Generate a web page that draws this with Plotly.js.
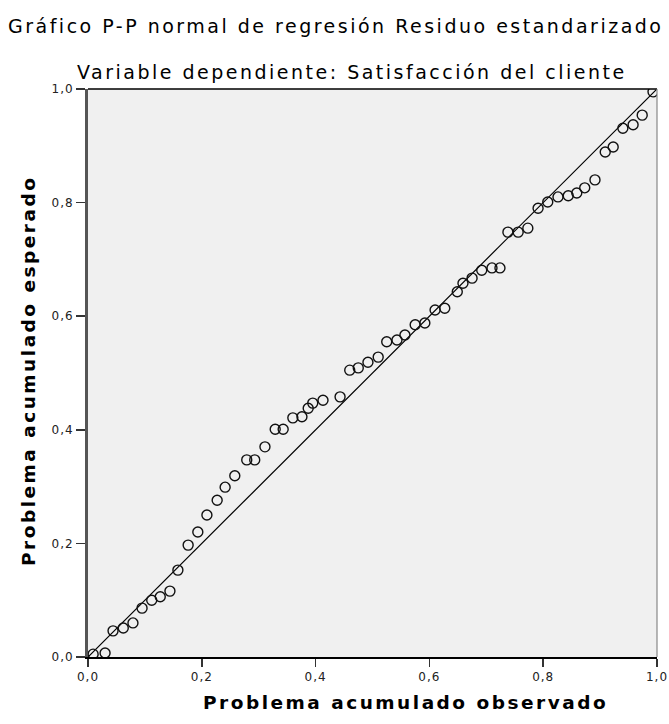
<!DOCTYPE html>
<html>
<head>
<meta charset="utf-8">
<script src="https://cdn.plot.ly/plotly-3.0.1.min.js"></script>
<style>
html,body{margin:0;padding:0;background:#fff;}
#chart{width:669px;height:724px;}
.annotation-text{letter-spacing:2.5px;}
.xtick text,.ytick text{letter-spacing:1px;}
</style>
</head>
<body>
<div id="chart"></div>
<script>
const observed = [0.009,0.030,0.044,0.062,0.079,0.095,0.112,0.127,0.144,0.158,0.176,0.193,0.209,0.227,0.241,0.258,0.279,0.293,0.311,0.329,0.343,0.360,0.376,0.387,0.395,0.413,0.443,0.460,0.475,0.492,0.510,0.525,0.543,0.557,0.575,0.592,0.610,0.627,0.649,0.659,0.675,0.692,0.710,0.724,0.738,0.756,0.773,0.791,0.808,0.826,0.844,0.859,0.873,0.891,0.909,0.923,0.940,0.958,0.974,0.993];
const expected = [0.005,0.007,0.046,0.051,0.060,0.086,0.100,0.106,0.116,0.153,0.197,0.220,0.250,0.276,0.299,0.319,0.347,0.347,0.370,0.401,0.401,0.421,0.423,0.438,0.447,0.452,0.458,0.505,0.509,0.519,0.528,0.555,0.558,0.567,0.585,0.588,0.611,0.614,0.643,0.658,0.667,0.681,0.685,0.685,0.748,0.748,0.755,0.790,0.801,0.810,0.812,0.817,0.826,0.840,0.889,0.898,0.931,0.937,0.954,0.995];
const refLine = [0, 1];
const tickVals = [0, 0.2, 0.4, 0.6, 0.8, 1.0];
const tickText = ["0,0", "0,2", "0,4", "0,6", "0,8", "1,0"];

const traces = [
  {x: refLine, y: refLine, mode: 'lines', line: {color: '#000', width: 1.2}, hoverinfo: 'skip'},
  {x: observed, y: expected, mode: 'markers', marker: {symbol: 'circle-open', size: 10, color: '#111', line: {width: 1.4, color: '#111'}}}
];

const F = 'DejaVu Sans, Liberation Sans, Arial, sans-serif';
const layout = {
  width: 669, height: 724,
  margin: {l: 88, r: 12, t: 89, b: 67},
  paper_bgcolor: '#ffffff',
  plot_bgcolor: '#f0f0f0',
  showlegend: false,
  font: {family: F, color: '#111'},
  xaxis: {
    range: [0, 1], tickvals: tickVals, ticktext: tickText,
    showgrid: false, zeroline: false, showline: true, linecolor: '#000', linewidth: 1.5,
    ticks: 'outside', ticklen: 8, tickwidth: 1.5, tickcolor: '#333',
    tickfont: {size: 12, color: '#222', family: F}
  },
  yaxis: {
    range: [0, 1], tickvals: tickVals, ticktext: tickText,
    showgrid: false, zeroline: false, showline: true, linecolor: '#555', linewidth: 3,
    ticks: 'outside', ticklen: 9, tickwidth: 1.5, tickcolor: '#333',
    tickfont: {size: 12, color: '#222', family: F}
  },
  shapes: [
    {type: 'line', xref: 'paper', yref: 'paper', x0: 0, x1: 1, y0: 1, y1: 1, line: {color: '#000', width: 1.5}},
    {type: 'line', xref: 'paper', yref: 'paper', x0: 1, x1: 1, y0: 0, y1: 1, line: {color: '#888', width: 1.2}}
  ],
  annotations: [
    {text: 'Gráfico P-P normal de regresión Residuo estandarizado', xref: 'paper', yref: 'paper', x: (335-88)/569, xanchor: 'center', y: 1.0 + (89-26)/568, yanchor: 'middle', showarrow: false, font: {size: 19, color: '#000', family: F}},
    {text: 'Variable dependiente: Satisfacción del cliente', xref: 'paper', yref: 'paper', x: (352-88)/569, xanchor: 'center', y: 1.0 + (89-72)/568, yanchor: 'middle', showarrow: false, font: {size: 19, color: '#000', family: F}},
    {text: 'Problema acumulado observado', xref: 'paper', yref: 'paper', x: (405-88)/569, xanchor: 'center', y: (657-702)/568, yanchor: 'middle', showarrow: false, font: {size: 18.5, color: '#000', family: F, weight: 'bold'}},
    {text: 'Problema acumulado esperado', xref: 'paper', yref: 'paper', x: (28-88)/569, xanchor: 'center', y: (657-371)/568, yanchor: 'middle', textangle: -90, showarrow: false, font: {size: 18.5, color: '#000', family: F, weight: 'bold'}}
  ]
};

Plotly.newPlot('chart', traces, layout, {displayModeBar: false, staticPlot: true});
</script>
</body>
</html>
